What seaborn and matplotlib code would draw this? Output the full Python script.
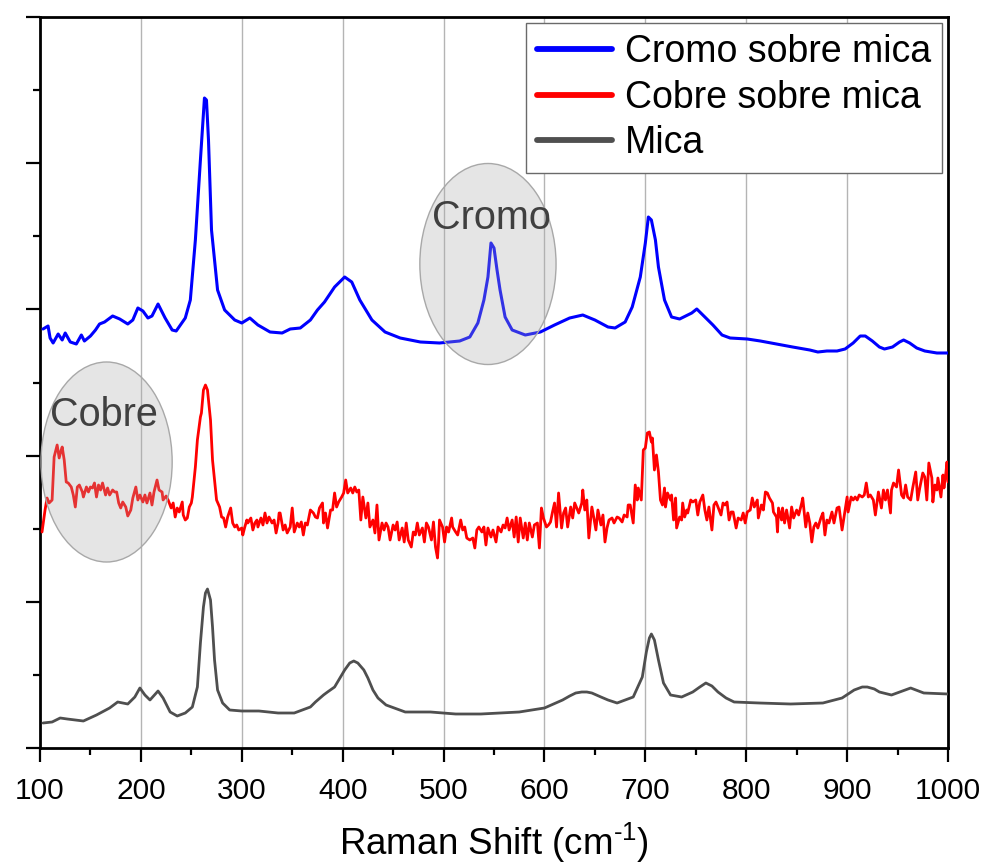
import matplotlib
matplotlib.use("Agg")
import matplotlib.pyplot as plt
from matplotlib.ticker import MultipleLocator, NullFormatter
from matplotlib.patches import Ellipse
import seaborn as sns
import pandas as pd

# ---------------- data (Raman shift in cm^-1, intensity in arbitrary units) ----------------
cromo_x = [103, 108, 110, 113, 118, 122, 125, 130, 136, 141, 144, 150, 155, 159, 164, 172, 179, 187, 192, 197,
           202, 207, 211, 217, 224, 231, 235, 244, 249, 254, 259, 263, 265, 267, 270, 276, 283, 293, 300, 308,
           316, 328, 340, 348, 358, 368, 375, 382, 392, 402, 409, 417, 429, 442, 457, 477, 496, 516, 526, 534,
           540, 544, 547, 550, 553, 556, 561, 568, 581, 596, 610, 625, 638, 650, 663, 670, 680, 687, 695, 700,
           703, 706, 710, 713, 719, 726, 734, 746, 751, 759, 767, 776, 784, 801, 814, 830, 846, 863, 871, 880,
           890, 898, 906, 913, 918, 925, 932, 937, 945, 952, 956, 962, 969, 977, 989, 1000]
cromo_y = [419, 422, 410, 405, 414, 408, 415, 406, 404, 413, 407, 412, 418, 424, 426, 432, 429, 424, 428, 440,
           437, 430, 432, 444, 430, 418, 417, 430, 448, 508, 588, 650, 648, 608, 518, 458, 438, 428, 425, 430,
           423, 416, 415, 419, 420, 428, 438, 446, 461, 471, 466, 448, 428, 416, 410, 406, 405, 407, 411, 425,
           448, 471, 505, 500, 478, 458, 431, 418, 413, 416, 423, 430, 433, 428, 421, 420, 426, 441, 471, 505,
           531, 528, 508, 481, 448, 431, 429, 435, 439, 431, 423, 413, 410, 409, 407, 404, 401, 398, 396, 397,
           397, 399, 405, 412, 412, 407, 401, 399, 401, 406, 408, 405, 400, 397, 395, 395]

cobre_x = [102, 105, 107, 109, 112, 114, 117, 119, 121, 122, 124, 126, 128, 131, 133, 135, 137, 139, 142, 143,
           146, 148, 150, 152, 154, 156, 158, 160, 162, 165, 167, 169, 172, 174, 176, 178, 180, 182, 185, 187,
           190, 192, 195, 197, 199, 202, 204, 206, 209, 211, 213, 216, 218, 221, 222, 225, 227, 230, 232, 234,
           236, 238, 241, 242, 244, 246, 248, 250, 251, 252, 254, 256, 258, 259, 260, 262, 264, 266, 269, 271,
           275, 278, 280, 282, 284, 286, 289, 291, 293, 295, 297, 300, 301, 303, 305, 306, 309, 311, 313, 315,
           316, 319, 321, 323, 325, 327, 330, 332, 334, 336, 337, 338, 341, 343, 345, 348, 350, 352, 355, 357,
           359, 361, 363, 365, 368, 371, 373, 375, 377, 380, 381, 383, 385, 388, 390, 392, 394, 396, 399, 401,
           403, 405, 408, 410, 412, 414, 416, 418, 420, 423, 425, 427, 430, 432, 434, 436, 439, 441, 443, 445,
           447, 450, 452, 454, 456, 459, 461, 463, 465, 468, 470, 472, 474, 476, 479, 481, 483, 485, 488, 490,
           492, 494, 495, 496, 499, 501, 503, 505, 508, 509, 512, 514, 517, 519, 521, 523, 526, 529, 531, 533,
           535, 538, 540, 542, 544, 547, 549, 552, 554, 557, 559, 561, 563, 565, 568, 570, 572, 574, 576, 579,
           581, 583, 585, 588, 590, 593, 595, 597, 599, 602, 604, 606, 608, 610, 612, 614, 617, 619, 621, 623,
           626, 628, 630, 632, 634, 637, 638, 640, 642, 644, 647, 649, 651, 653, 656, 658, 660, 662, 664, 667,
           669, 672, 674, 677, 679, 682, 683, 685, 688, 690, 692, 693, 696, 698, 700, 702, 704, 706, 707, 709,
           711, 713, 715, 717, 719, 720, 722, 725, 726, 728, 730, 731, 734, 736, 737, 739, 741, 742, 745, 747,
           750, 752, 754, 757, 759, 761, 763, 766, 768, 770, 772, 775, 777, 779, 781, 783, 785, 787, 790, 792,
           795, 797, 799, 801, 804, 806, 808, 811, 812, 815, 817, 819, 821, 823, 826, 827, 830, 831, 832, 835,
           836, 838, 840, 843, 845, 847, 850, 852, 855, 856, 859, 861, 863, 865, 867, 869, 871, 874, 876, 878,
           880, 882, 885, 887, 890, 892, 895, 897, 900, 901, 904, 906, 908, 910, 912, 915, 917, 919, 921, 923,
           926, 928, 930, 931, 934, 936, 938, 940, 943, 944, 946, 949, 951, 954, 956, 958, 960, 963, 965, 968,
           970, 972, 975, 977, 979, 981, 984, 985, 987, 989, 990, 993, 995, 996, 998, 999, 1000]
cobre_y = [216, 238, 250, 245, 248, 291, 303, 290, 298, 301, 288, 266, 265, 261, 253, 241, 261, 263, 256, 251,
           261, 256, 261, 260, 265, 251, 263, 258, 265, 253, 260, 253, 258, 256, 256, 245, 240, 246, 241, 232,
           238, 250, 261, 248, 253, 246, 253, 245, 255, 243, 256, 268, 258, 256, 248, 252, 248, 240, 245, 231,
           240, 236, 246, 233, 228, 230, 241, 245, 251, 261, 281, 308, 323, 331, 335, 358, 363, 358, 328, 288,
           248, 241, 231, 230, 221, 231, 240, 225, 221, 223, 218, 220, 213, 221, 228, 225, 230, 218, 225, 228,
           221, 230, 223, 235, 225, 231, 225, 228, 215, 225, 235, 235, 218, 223, 215, 221, 240, 216, 225, 221,
           226, 213, 225, 223, 238, 235, 231, 230, 240, 245, 225, 235, 220, 238, 238, 255, 241, 246, 251, 255,
           268, 255, 260, 255, 261, 256, 258, 228, 251, 230, 245, 221, 228, 215, 243, 208, 225, 218, 225, 221,
           208, 223, 218, 226, 208, 220, 206, 225, 208, 201, 216, 213, 225, 213, 220, 206, 225, 221, 208, 226,
           201, 190, 205, 228, 221, 206, 221, 216, 230, 221, 216, 213, 228, 218, 221, 210, 208, 210, 200, 218,
           221, 216, 221, 203, 220, 211, 218, 206, 221, 216, 223, 220, 230, 218, 228, 211, 231, 206, 230, 210,
           225, 208, 225, 211, 223, 225, 200, 240, 230, 221, 223, 226, 236, 245, 221, 255, 220, 235, 240, 221,
           241, 230, 245, 240, 235, 245, 258, 238, 248, 210, 241, 230, 218, 238, 223, 233, 206, 220, 228, 230,
           225, 231, 230, 226, 233, 231, 243, 243, 225, 263, 248, 260, 248, 298, 300, 315, 316, 306, 310, 278,
           293, 276, 248, 243, 260, 241, 255, 248, 253, 228, 250, 220, 231, 228, 245, 231, 238, 235, 248, 246,
           248, 233, 246, 253, 238, 228, 241, 218, 243, 246, 241, 233, 245, 243, 246, 228, 236, 236, 220, 230,
           228, 235, 225, 236, 238, 250, 241, 248, 230, 243, 238, 256, 255, 250, 245, 236, 231, 216, 240, 228,
           240, 225, 238, 220, 241, 230, 238, 233, 245, 250, 221, 235, 225, 206, 221, 225, 220, 230, 235, 213,
           228, 225, 236, 225, 240, 241, 218, 231, 251, 236, 251, 248, 251, 248, 253, 251, 253, 265, 251, 253,
           248, 233, 248, 256, 240, 258, 248, 258, 235, 258, 265, 261, 278, 253, 250, 263, 251, 248, 260, 276,
           248, 260, 275, 271, 248, 285, 270, 246, 263, 258, 270, 251, 273, 260, 276, 286, 266]

mica_x = [103, 112, 120, 127, 143, 156, 169, 177, 187, 194, 199, 204, 209, 217, 222, 229, 236, 244, 251, 256,
          259, 262, 264, 266, 269, 271, 273, 276, 281, 288, 300, 317, 336, 352, 368, 373, 381, 385, 392, 402,
          407, 411, 415, 421, 425, 430, 435, 443, 462, 487, 512, 537, 575, 600, 618, 625, 631, 637, 642, 647,
          656, 663, 672, 688, 697, 701, 704, 706, 709, 713, 718, 725, 736, 747, 754, 760, 766, 772, 780, 788,
          813, 844, 876, 895, 907, 915, 920, 927, 932, 944, 963, 976, 1000]
mica_y = [25, 26, 30, 29, 27, 33, 40, 46, 44, 51, 60, 53, 48, 57, 50, 36, 32, 35, 41, 61,
          105, 141, 155, 159, 148, 121, 88, 58, 45, 38, 37, 37, 35, 35, 41, 46, 53, 56, 61, 78,
          85, 87, 85, 78, 70, 58, 50, 43, 36, 36, 34, 34, 36, 40, 48, 52, 55, 56, 56, 55,
          51, 48, 45, 51, 71, 96, 110, 114, 108, 88, 65, 53, 51, 56, 61, 65, 62, 56, 50, 46,
          45, 44, 45, 50, 58, 61, 61, 59, 56, 53, 60, 55, 54]

series_names = ["Cromo sobre mica", "Cobre sobre mica", "Mica"]
series_colors = ["#0000ff", "#ff0000", "#4f4f4f"]

x_ticks = [100, 200, 300, 400, 500, 600, 700, 800, 900, 1000]
x_label = r"Raman Shift (cm$^{\text{-1}}$)"
annotations = ["Cromo", "Cobre"]

# ---------------- figure ----------------
sns.set_theme(style="ticks")
plt.rcParams["font.family"] = ["Liberation Sans", "DejaVu Sans"]
plt.rcParams["mathtext.fontset"] = "custom"
plt.rcParams["mathtext.rm"] = "Liberation Sans"
plt.rcParams["text.color"] = "black"
plt.rcParams["axes.labelcolor"] = "black"
plt.rcParams["xtick.color"] = "black"
plt.rcParams["ytick.color"] = "black"

fig = plt.figure(figsize=(9.87, 8.65), dpi=100)
ax = fig.add_axes([40 / 987, 117 / 865, 908 / 987, 731 / 865])

df = pd.concat([
    pd.DataFrame({"x": cromo_x, "y": cromo_y, "s": series_names[0]}),
    pd.DataFrame({"x": cobre_x, "y": cobre_y, "s": series_names[1]}),
    pd.DataFrame({"x": mica_x, "y": mica_y, "s": series_names[2]}),
])

widths = [2.2, 2.0, 2.0]
for name, col, lw in zip(series_names, series_colors, widths):
    sub = df[df["s"] == name]
    sns.lineplot(data=sub, x="x", y="y", ax=ax, color=col, linewidth=lw,
                 estimator=None, sort=False, label=name, zorder=3)

# annotation ellipses
for (cx, cy, w, h) in [(544, 484, 135, 201), (166, 286, 130, 200)]:
    ax.add_patch(Ellipse((cx, cy), w, h, facecolor="#acacac", alpha=0.3,
                         edgecolor="none", zorder=4))
    ax.add_patch(Ellipse((cx, cy), w, h, facecolor="none", edgecolor="#a8a8a8",
                         linewidth=1.0, zorder=4))
ax.text(547, 530, annotations[0], fontsize=28.5, color="#404040", ha="center", va="center", zorder=5)
ax.text(163, 333, annotations[1], fontsize=28.5, color="#404040", ha="center", va="center", zorder=5)

# axes
ax.set_xlim(100, 1000)
ax.set_ylim(0, 731)
ax.xaxis.set_major_locator(MultipleLocator(100))
ax.xaxis.set_minor_locator(MultipleLocator(50))
ax.yaxis.set_major_locator(MultipleLocator(146.2))
ax.yaxis.set_minor_locator(MultipleLocator(73.1))
ax.yaxis.set_major_formatter(NullFormatter())
ax.set_xticks(x_ticks)
ax.set_xticklabels([str(t) for t in x_ticks])
ax.tick_params(axis="both", which="major", length=10, width=1.6, color="black",
               labelsize=21.5, pad=11, direction="out", labelcolor="black")
ax.tick_params(axis="both", which="minor", length=5, width=1.6, color="black", direction="out")
ax.set_xlabel(x_label, fontsize=26.5, color="black", labelpad=11)
ax.set_ylabel("")

ax.grid(False)
ax.grid(axis="x", which="major", color="#b4b4b4", linewidth=1.0, zorder=0)
ax.set_axisbelow(True)
for side in ["left", "bottom", "top", "right"]:
    ax.spines[side].set_visible(True)
    ax.spines[side].set_color("black")
    ax.spines[side].set_linewidth(2.0)
ax.set_facecolor("white")

leg = ax.legend(loc="upper right", fontsize=27, frameon=True, fancybox=False,
                framealpha=1, edgecolor="#6a6a6a", handlelength=2.0, handletextpad=0.35,
                labelspacing=0.26, borderpad=0.3, borderaxespad=0.15)
leg.get_frame().set_linewidth(1.0)
for t in leg.get_texts():
    t.set_color("black")
for h in leg.get_lines():
    h.set_linewidth(4.2)
leg.set_zorder(10)

fig.savefig("out.png", dpi=100, facecolor="white")
